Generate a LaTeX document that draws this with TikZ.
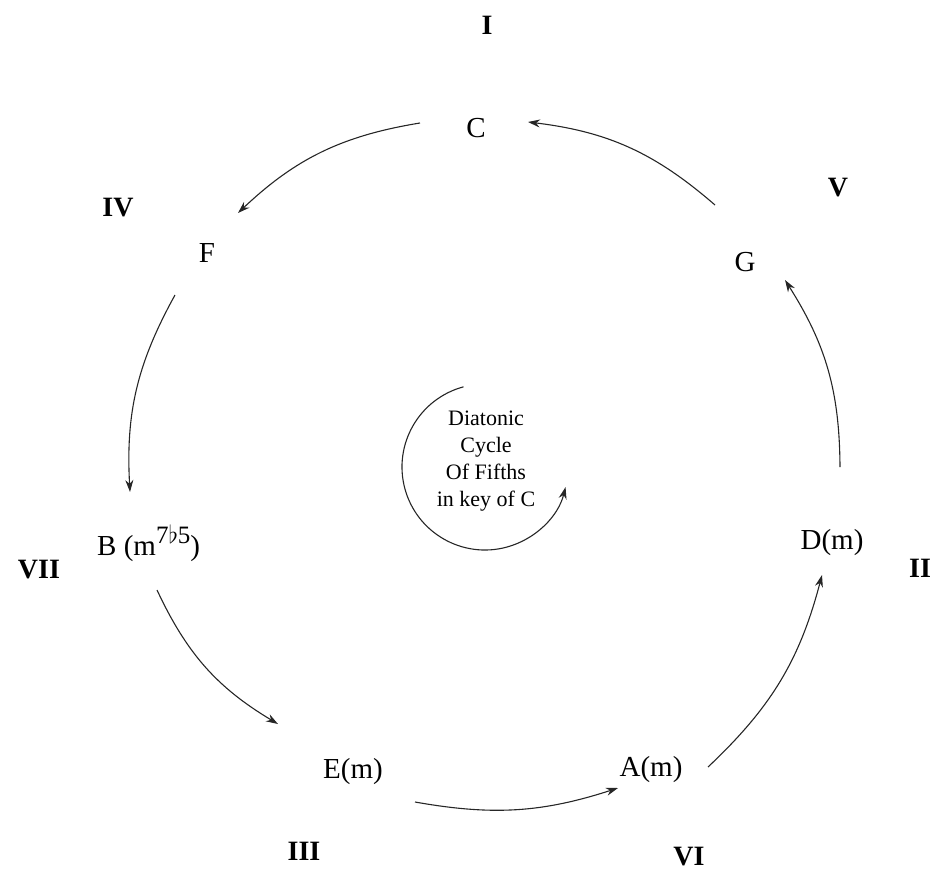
\documentclass[tikz,border=0pt]{standalone}
\usepackage{fontspec}
\setmainfont{Liberation Serif}
\usetikzlibrary{arrows.meta}
\tikzset{
  chord/.style={font=\fontsize{29}{31}\selectfont, inner sep=0pt},
  roman/.style={font=\fontsize{28}{30}\selectfont\bfseries, inner sep=0pt},
  centertext/.style={font=\fontsize{22}{27}\selectfont, align=center, inner sep=0pt},
  cyc/.style={line width=1.1pt, draw=black!85, -{Stealth[length=12pt,width=8pt]}},
}
\begin{document}
\begin{tikzpicture}[x=1pt,y=1pt]
\useasboundingbox (0,0) rectangle (939,-872);
% chord names
\node[chord] (C) at (476,-128) {C};
\node[chord] (G) at (745,-262) {G};
\node[chord] (D) at (832,-543) {D(m)};
\node[chord] (A) at (651,-770) {A(m)};
\node[chord] (E) at (353,-772) {E(m)};
\node[chord, anchor=west] (B) at (97,-543) {B (m\raisebox{0.42em}{\fontsize{25}{25}\selectfont 7$\flat$5})};
\node[chord] (F) at (207,-253) {F};
% roman numerals
\node[roman] (r1) at (487,-25) {I};
\node[roman] (r5) at (838,-188) {V};
\node[roman] (r2) at (920,-568) {II};
\node[roman] (r6) at (689,-857) {VI};
\node[roman] (r3) at (304,-851) {III};
\node[roman] (r7) at (39,-570) {VII};
\node[roman] (r4) at (118,-208) {IV};
% arrow endpoints
\coordinate (c1) at (420,-123); \coordinate (f1) at (238,-213);
\coordinate (f2) at (175,-295); \coordinate (b1) at (130,-492);
\coordinate (b2) at (157,-590); \coordinate (e1) at (278,-724);
\coordinate (e2) at (415,-802); \coordinate (a1) at (618,-788);
\coordinate (a2) at (708,-767); \coordinate (d1) at (822,-575);
\coordinate (d2) at (840,-467); \coordinate (g1) at (785,-280);
\coordinate (g2) at (715,-205); \coordinate (c2) at (528,-122);
\draw[cyc] (c1) to[bend right=17] (f1);
\draw[cyc] (f2) to[bend right=16] (b1);
\draw[cyc] (b2) to[bend right=17] (e1);
\draw[cyc] (e2) to[bend right=14] (a1);
\draw[cyc] (a2) to[bend right=16] (d1);
\draw[cyc] (d2) to[bend right=16] (g1);
\draw[cyc] (g2) to[bend right=17] (c2);
% centre
\node[centertext] (T) at (486,-461) {Diatonic\\Cycle\\Of Fifths\\in key of C};
\coordinate (m0) at (485,-467);
\draw[cyc] (m0) ++(105:83) arc[start angle=105, end angle=346, radius=83];
\end{tikzpicture}
\end{document}
